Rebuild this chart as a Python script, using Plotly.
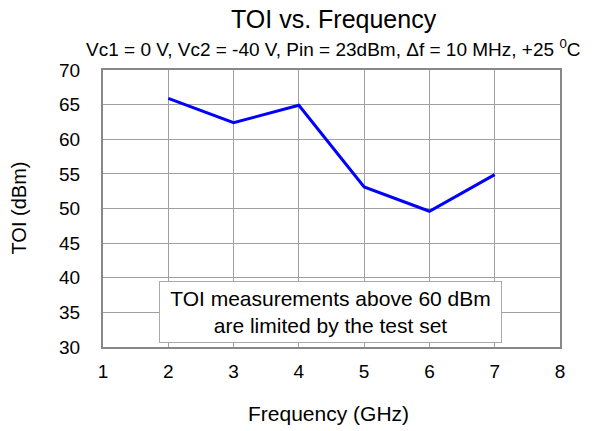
import plotly.graph_objects as go

freq_ghz = [2, 3, 4, 5, 6, 7]
toi_dbm = [65.9, 62.4, 64.9, 53.1, 49.6, 54.9]
x_ticks = [1, 2, 3, 4, 5, 6, 7, 8]
y_ticks = [30, 35, 40, 45, 50, 55, 60, 65, 70]

FONT = "Liberation Sans, Arial, sans-serif"

fig = go.Figure()
fig.add_trace(go.Scatter(x=freq_ghz, y=toi_dbm, mode="lines",
                         line=dict(color="#0000FF", width=3), showlegend=False,
                         hoverinfo="skip"))

fig.update_layout(
    width=593, height=431,
    margin=dict(l=103, r=33, t=70, b=84),
    paper_bgcolor="white", plot_bgcolor="white",
    font=dict(family=FONT, size=19, color="black"),
    hovermode=False,
    xaxis=dict(range=[1, 8], tickvals=x_ticks, showgrid=True, gridcolor="#A0A0A0",
               gridwidth=1, showline=True, linecolor="#888888", linewidth=2, mirror=True,
               zeroline=False, ticks="inside", ticklen=4, tickcolor="#A0A0A0",
               ticklabelstandoff=6),
    yaxis=dict(range=[30, 70], tickvals=y_ticks, showgrid=True, gridcolor="#A0A0A0",
               gridwidth=1, showline=True, linecolor="#888888", linewidth=2, mirror=True,
               zeroline=False, ticks="", ticklabelstandoff=17),
    annotations=[
        dict(text="TOI vs. Frequency", xref="paper", yref="paper", x=0.5, y=1.0,
             xshift=2, yshift=51, showarrow=False, font=dict(size=25), yanchor="middle"),
        dict(text="Vc1 = 0 V, Vc2 = -40 V, Pin = 23dBm, \u0394f = 10 MHz, +25 <sup>0</sup>C",
             xref="paper", yref="paper", x=0.5, y=1.0, xshift=1.5, yshift=22,
             showarrow=False, font=dict(size=19), yanchor="middle"),
        dict(text="Frequency (GHz)", xref="paper", yref="paper", x=0.5, y=0.0,
             xshift=-3, yshift=-66, showarrow=False, font=dict(size=21), yanchor="middle"),
        dict(text="TOI (dBm)", xref="paper", yref="paper", x=0.0, y=0.5,
             xshift=-85, showarrow=False, font=dict(size=20), textangle=-90,
             xanchor="center", yanchor="middle"),
        dict(text="TOI measurements above 60 dBm<br>are limited by the test set",
             xref="x", yref="y", x=4.49, y=35.05, showarrow=False,
             font=dict(size=21), bgcolor="white", bordercolor="#AAAAAA", borderwidth=1,
             borderpad=2, width=337, height=56),
    ],
)

fig.write_html("out.html", config={"displayModeBar": False},
               post_script="document.body.style.margin='0';")
